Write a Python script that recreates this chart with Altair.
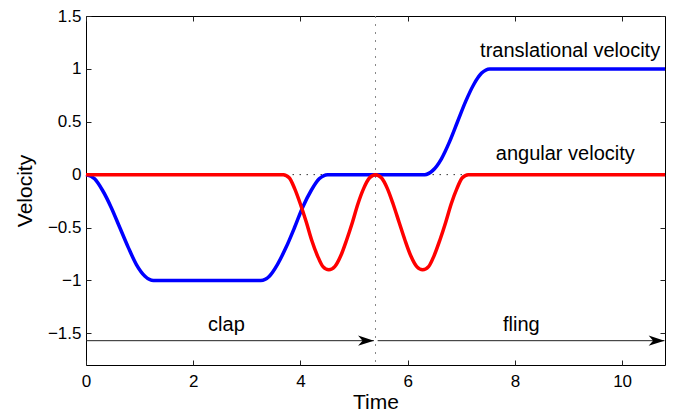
import altair as alt
import pandas as pd

# translational velocity (blue)
blue_t = [0, 0.16, 0.31, 0.47, 0.63, 0.79, 0.94, 1.10, 1.26,
          3.26, 3.42, 3.57, 3.73, 3.89, 4.04, 4.20, 4.35, 4.51,
          6.32, 6.47, 6.63, 6.78, 6.93, 7.08, 7.23, 7.38, 7.53, 10.8]
blue_v = [0, -0.04, -0.15, -0.31, -0.5, -0.69, -0.85, -0.96, -1,
          -1, -0.96, -0.85, -0.69, -0.5, -0.31, -0.15, -0.04, 0,
          0, 0.04, 0.15, 0.31, 0.5, 0.69, 0.85, 0.96, 1, 1]

# angular velocity (red)
red_t = [0, 3.68, 3.79, 3.89, 4.00, 4.11, 4.21, 4.32, 4.42, 4.53,
         4.64, 4.75, 4.86, 4.97, 5.07, 5.18, 5.29, 5.40,
         5.51, 5.62, 5.73, 5.84, 5.95, 6.06, 6.17, 6.28,
         6.39, 6.49, 6.60, 6.71, 6.81, 6.92, 7.02, 7.13, 10.8]
red_v = [0, 0, -0.03, -0.13, -0.28, -0.45, -0.62, -0.77, -0.87, -0.9,
         -0.87, -0.77, -0.62, -0.45, -0.28, -0.13, -0.03, 0,
         -0.03, -0.13, -0.28, -0.45, -0.62, -0.77, -0.87, -0.9,
         -0.87, -0.77, -0.62, -0.45, -0.28, -0.13, -0.03, 0, 0]

# phase boundary and phase arrows
split_t = [5.40]
arrow_start = [0, 5.44]
arrow_end = [5.37, 10.79]
arrow_v = [-1.57, -1.57]
phase_names = ["clap", "fling"]
phase_t = [2.62, 8.12]
phase_v = [-1.48, -1.48]

# curve labels
curve_names = ["translational velocity", "angular velocity"]
curve_label_t = [10.71, 8.94]
curve_label_v = [1.115, 0.14]
curve_label_align = ["right", "center"]

x_ticks = [0, 2, 4, 6, 8, 10]
y_ticks = [-1.5, -1, -0.5, 0, 0.5, 1, 1.5]

W, H = 579, 349
FONT = "Liberation Sans"
xs = alt.Scale(domain=[0, 10.8], nice=False, zero=False)
ys = alt.Scale(domain=[-1.8, 1.5], nice=False, zero=False)

blue = pd.DataFrame({"t": blue_t, "v": blue_v})
red = pd.DataFrame({"t": red_t, "v": red_v})
arrows = pd.DataFrame({"t0": arrow_start, "t1": arrow_end, "v": arrow_v})
phases = pd.DataFrame({"name": phase_names, "t": phase_t, "v": phase_v})
split = pd.DataFrame({"t": split_t})
zero = pd.DataFrame({"v": [0]})
labels = pd.DataFrame({"name": curve_names, "t": curve_label_t,
                       "v": curve_label_v, "al": curve_label_align})

main_x = alt.Axis(orient="bottom", values=x_ticks, format="d", ticks=False,
                  tickSize=0, domain=False, grid=False, labelPadding=8,
                  labelFlush=False, labelOverlap=False,
                  labelFontSize=17, labelFont=FONT, labelColor="black",
                  title="Time", titleFontSize=21, titleFont=FONT,
                  titleFontWeight="normal", titleColor="black",
                  titleBaseline="alphabetic", titleX=W / 2, titleY=43)
main_y = alt.Axis(orient="left", values=y_ticks, format=".1~f", ticks=False,
                  tickSize=0, domain=False, grid=False, labelPadding=5,
                  labelFlush=False, labelOverlap=False,
                  labelFontSize=17, labelFont=FONT, labelColor="black",
                  title="Velocity", titleFontSize=21, titleFont=FONT,
                  titleFontWeight="normal", titleColor="black",
                  titleAngle=-90, titleBaseline="middle", titleAlign="center",
                  titleX=-61, titleY=H / 2)


def inner_ticks(orient, values):
    # tick marks pointing into the plot box
    return alt.Axis(orient=orient, values=values, labels=False, domain=False,
                    grid=False, ticks=True, tickSize=5, offset=-5,
                    tickColor="#222", tickWidth=1, title=None)


zero_line = alt.Chart(zero).mark_rule(
    color="#333", strokeWidth=1, strokeDash=[1.5, 5.5]
).encode(y=alt.Y("v:Q", scale=ys, axis=None))

split_line = alt.Chart(split).mark_rule(
    color="#888", strokeWidth=1, strokeDash=[2, 6]
).encode(x=alt.X("t:Q", scale=xs, axis=None))

blue_line = alt.Chart(blue).mark_line(
    color="#0000ff", strokeWidth=3.5, interpolate="monotone"
).encode(x=alt.X("t:Q", scale=xs, axis=main_x),
         y=alt.Y("v:Q", scale=ys, axis=main_y))

red_line = alt.Chart(red).mark_line(
    color="#ff0000", strokeWidth=3.5, interpolate="monotone"
).encode(x=alt.X("t:Q", scale=xs, axis=inner_ticks("bottom", x_ticks)),
         y=alt.Y("v:Q", scale=ys, axis=inner_ticks("left", y_ticks)))

arrow_shafts = alt.Chart(arrows).mark_rule(color="#222", strokeWidth=1).encode(
    x=alt.X("t0:Q", scale=xs, axis=inner_ticks("top", x_ticks)),
    x2="t1:Q",
    y=alt.Y("v:Q", scale=ys, axis=inner_ticks("right", y_ticks)),
)

arrow_heads = alt.Chart(arrows).mark_point(
    shape="M0,0L-1,-0.32L-0.72,0L-1,0.32Z", filled=True, color="black",
    size=1000, opacity=1
).encode(x=alt.X("t1:Q", scale=xs, axis=None),
         y=alt.Y("v:Q", scale=ys, axis=None))

phase_text = alt.Chart(phases).mark_text(
    font=FONT, fontSize=20, color="black", baseline="alphabetic", align="center"
).encode(x=alt.X("t:Q", scale=xs, axis=None),
         y=alt.Y("v:Q", scale=ys, axis=None), text="name:N")

curve_text_r = alt.Chart(labels).transform_filter(
    alt.datum.al == "right"
).mark_text(
    font=FONT, fontSize=20, color="black", baseline="alphabetic", align="right"
).encode(x=alt.X("t:Q", scale=xs, axis=None),
         y=alt.Y("v:Q", scale=ys, axis=None), text="name:N")

curve_text_c = alt.Chart(labels).transform_filter(
    alt.datum.al == "center"
).mark_text(
    font=FONT, fontSize=20, color="black", baseline="alphabetic", align="center"
).encode(x=alt.X("t:Q", scale=xs, axis=None),
         y=alt.Y("v:Q", scale=ys, axis=None), text="name:N")

chart = alt.layer(
    zero_line, split_line, blue_line, red_line, arrow_shafts, arrow_heads,
    phase_text, curve_text_r, curve_text_c
).resolve_axis(
    x="independent", y="independent"
).properties(
    width=W, height=H,
    autosize=alt.AutoSizeParams(type="none"),
    padding={"left": 86, "top": 16, "right": 12, "bottom": 47},
    background="white",
).configure_view(
    stroke="black", strokeWidth=1
)

chart.save("out.html", embed_options={"renderer": "svg", "actions": False})
